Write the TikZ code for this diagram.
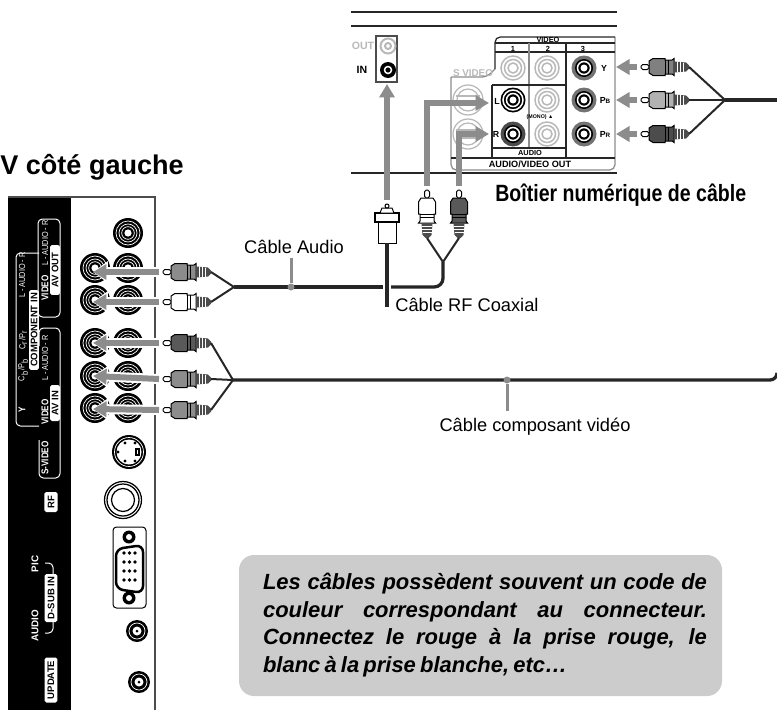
\documentclass[tikz,border=0pt]{standalone}
\usepackage{fontspec}
\setmainfont{Liberation Sans}
\newfontfamily\narrowfont[FakeStretch=0.83]{Liberation Sans}
\usepackage{xcolor}
\usetikzlibrary{arrows.meta, calc}

\definecolor{arrowgray}{gray}{0.55}
\definecolor{ghostgray}{gray}{0.72}
\definecolor{notegray}{gray}{0.8}

\begin{document}
\begin{tikzpicture}[
    x=0.02cm, y=-0.02cm,
    cable/.style={draw=black!85, line width=0.065cm},
    thincable/.style={draw=black!85, line width=0.04cm},
    pointer/.style={-{Triangle[length=0.27cm, width=0.3cm]}, draw=arrowgray, line width=0.12cm,
        preaction={draw=white, line width=0.2cm, -{Triangle[length=0.3cm, width=0.42cm]}}},
    plainpointer/.style={-{Triangle[length=0.27cm, width=0.3cm]}, draw=arrowgray, line width=0.12cm},
    tickline/.style={draw=arrowgray, line width=0.06cm},
    tickdot/.style={circle, fill=arrowgray, inner sep=0pt, minimum size=0.14cm},
    label/.style={font=\fontsize{10.4}{12}\selectfont, inner sep=0pt},
    heading/.style={font=\fontsize{15.4}{18}\bfseries\selectfont, inner sep=0pt, anchor=west},
    whitetag/.style={rotate=90, font=\narrowfont\fontsize{5}{6}\selectfont, text=white, inner sep=0pt},
    boldtag/.style={rotate=90, font=\narrowfont\fontsize{5.6}{6}\bfseries\selectfont, text=white, inner sep=0pt},
    boxtag/.style={rotate=90, rounded corners=1pt, fill=white, text=black, inner sep=0pt, align=center,
        font=\fontsize{5.4}{6}\bfseries\selectfont},
    panelline/.style={draw=white, line width=0.02cm, rounded corners=2.5pt},
    avtext/.style={font=\fontsize{4.2}{5}\bfseries\selectfont, inner sep=0pt},
    avletter/.style={font=\fontsize{5}{6}\bfseries\selectfont, inner sep=0pt},
    avline/.style={draw=black!85, line width=0.025cm},
    ghostline/.style={draw=arrowgray, line width=0.025cm},
    pics/jack/.style n args={2}{code={
        \fill[#1] (0,0) circle[radius=#2];
        \draw[white, line width=0.014cm] (0,0) circle[radius=#2*0.8];
        \draw[white, line width=0.014cm] (0,0) circle[radius=#2*0.6];
        \draw[white, line width=0.014cm] (0,0) circle[radius=#2*0.42];
        \fill[white] (0,0) circle[radius=#2*0.24];
    }},
    pics/minijack/.style={code={
        \fill[black] (0,0) circle[radius=11];
        \draw[white, line width=0.014cm] (0,0) circle[radius=8];
        \fill[white] (0,0) circle[radius=4.5];
        \fill[black] (0,0) circle[radius=1.5];
    }},
    pics/ghostjack/.style={code={
        \draw[ghostgray, line width=0.03cm] (0,0) circle[radius=12];
        \draw[ghostgray, line width=0.03cm] (0,0) circle[radius=8.5];
        \draw[ghostgray, line width=0.03cm] (0,0) circle[radius=5];
    }},
    pics/darkjack/.style={code={
        \fill[#1] (0,0) circle[radius=12.5];
        \fill[black] (0,0) circle[radius=9];
        \draw[white, line width=0.03cm] (0,0) circle[radius=6.5];
        \fill[white] (0,0) circle[radius=3.5];
    }},
    pics/rcaplug/.style={code={
        \coordinate (-tip) at (-4,0);
        \coordinate (-tail) at (48,0);
        \draw[black, line width=0.02cm, fill=white, rounded corners=1pt] (0,-2.5) -- (8,-2.5) -- (8,2.5) -- (0,2.5) -- cycle;
        \draw[black, line width=0.02cm, fill=#1] (8,-6) -- (12,-8.5) -- (24,-8.5) -- (24,-7) -- (31,-7) -- (33,-8.5) -- (33,8.5) -- (31,7) -- (24,7) -- (24,8.5) -- (12,8.5) -- (8,6) -- cycle;
        \draw[black, line width=0.015cm] (24,-7) -- (24,7) (27,-7) -- (27,7);
        \fill[black!70] (33,-5.5) -- (45,-4.5) -- (48,-1.5) -- (48,1.5) -- (45,4.5) -- (33,5.5) -- cycle;
        \draw[white, line width=0.012cm] (36,-5) -- (36,5) (39,-5) -- (39,5) (42,-4.5) -- (42,4.5);
    }},
]
\useasboundingbox (0,0) rectangle (777,710);

% television panel
\fill[black] (8,197) rectangle (71,710);
\draw[black!70, line width=0.025cm] (8,197) -- (155,197) -- (155,710);

\draw[panelline] (38,219) rectangle (60,317);
\draw[panelline] (39,253) -- (16,253) -- (16,426) -- (39,426);
\draw[panelline] (39,346) -- (39,328) -- (60,328) -- (60,478) -- (39,478) -- (39,440);
\draw[panelline] (45,563) -- (53,563) -- (53,633) -- (45,633);

\node[whitetag] (tvaudiob) at (45,243) {L - AUDIO - R};
\node[boldtag] (tvvideob) at (45,288) {VIDEO};
\node[boxtag, minimum width=1cm, minimum height=0.2cm] (avout) at (55,270) {AV OUT};
\node[whitetag] (tvaudioa) at (22,275) {L - AUDIO - R};
\node[whitetag] (tvcr) at (23,340) {C\textsubscript{r}/P\textsubscript{r}};
\node[whitetag] (tvcb) at (23,370) {C\textsubscript{b}/P\textsubscript{b}};
\node[boldtag] (tvy) at (22,410) {Y};
\node[boxtag, minimum width=1.6cm, minimum height=0.2cm] (compin) at (34,330) {COMPONENT IN};
\node[whitetag] (tvaudioc) at (45,358) {L - AUDIO - R};
\node[boldtag] (tvvideoc) at (45,412) {VIDEO};
\node[boxtag, minimum width=0.72cm, minimum height=0.2cm] (avin) at (55,403) {AV IN};
\node[boldtag] (tvsvideo) at (45,458) {S-VIDEO};
\node[boxtag, minimum width=0.4cm, minimum height=0.27cm] (tvrf) at (51,502) {RF};
\node[boldtag, font=\fontsize{5.6}{6}\bfseries\selectfont] (tvpic) at (35,564) {PIC};
\node[boldtag, font=\fontsize{5.6}{6}\bfseries\selectfont] (tvsound) at (35,626) {AUDIO};
\node[boxtag, minimum width=0.96cm, minimum height=0.26cm] (dsub) at (51,598) {D-SUB IN};
\node[boxtag, minimum width=0.9cm, minimum height=0.26cm] (update) at (51,680) {UPDATE};

\pic at (128,233) {jack={black}{15}};
\pic at (128,268) {jack={black}{15}};
\pic at (128,300) {jack={black}{15}};
\pic at (128,343) {jack={black}{15}};
\pic at (128,376) {jack={black}{15}};
\pic at (128,408) {jack={black}{15}};
\pic at (95,268) {jack={black}{15}};
\pic at (95,300) {jack={black}{15}};
\pic at (95,343) {jack={black}{15}};
\pic at (95,376) {jack={black}{15}};
\pic at (95,408) {jack={black}{15}};

\coordinate (tvjacka) at (93,272);
\coordinate (tvjackb) at (93,302);
\coordinate (tvjackc) at (93,343);
\coordinate (tvjackd) at (93,376);
\coordinate (tvjacke) at (93,409);

% lower sockets
\fill[black] (129,452) circle[radius=17];
\draw[white, line width=0.014cm] (129,452) circle[radius=14.5];
\fill[white] (129,452) circle[radius=12.5];
\fill[black] (118,452) circle[radius=1.6] (125,443) circle[radius=1.6] (135,443) circle[radius=1.6] (125,461) circle[radius=1.6] (135,461) circle[radius=1.6];
\draw[black, line width=0.025cm] (136,449) rectangle (139,455);
\draw[black, line width=0.025cm] (123,500) circle[radius=18.5];
\draw[black, line width=0.025cm] (123,500) circle[radius=16];
\draw[black, line width=0.025cm] (123,500) circle[radius=11.5];
\draw[black, line width=0.02cm, rounded corners=2pt] (113,527) rectangle (146,608);
\fill[black] (129,537) circle[radius=6.5] (129,598) circle[radius=6.5];
\fill[white] (129,537) circle[radius=3] (129,598) circle[radius=3];
\draw[black, line width=0.05cm, rounded corners=4pt] (116,549) -- (143,545) -- (143,593) -- (116,589) -- cycle;
\foreach \pinx in {124,135,129.5}{
    \foreach \piny in {553,562,571,580}{
        \fill[black] (\pinx,\piny) circle[radius=1.8];
    }
}
\pic at (137,631) {minijack};
\pic at (139,682) {minijack};

% television plugs
\coordinate (tvaudiojoin) at (234,287);
\coordinate (tvvideojoin) at (233,380);
\pic (plugtva) at (163,272) {rcaplug=black!45};
\pic (plugtvb) at (163,302) {rcaplug=white};
\pic (plugtvc) at (163,343) {rcaplug=black!65};
\pic (plugtvd) at (163,379) {rcaplug=black!45};
\pic (plugtve) at (163,410) {rcaplug=black!45};
\draw[pointer] (plugtva-tip) -- (tvjacka);
\draw[pointer] (plugtvb-tip) -- (tvjackb);
\draw[pointer] (plugtvc-tip) -- (tvjackc);
\draw[pointer] (plugtvd-tip) -- (tvjackd);
\draw[pointer] (plugtve-tip) -- (tvjacke);
\draw[thincable] (plugtva-tail) -- (tvaudiojoin);
\draw[thincable] (plugtvb-tail) -- (tvaudiojoin);
\draw[thincable] (plugtvc-tail) -- (tvvideojoin);
\draw[thincable] (plugtvd-tail) -- (tvvideojoin);
\draw[thincable] (plugtve-tail) -- (tvvideojoin);

\node[heading] (tvtitle) at (0,167) {V côté gauche};

% cable box
\draw[avline] (351,12) -- (617,12);
\draw[avline] (351,26) -- (617,26);
\draw[avline] (351,173) -- (617,173);

\draw[black!70, line width=0.025cm] (376,36) rectangle (397,82);
\node[font=\fontsize{6}{7}\bfseries\selectfont, text=ghostgray, inner sep=0pt] (outlabel) at (363,46) {OUT};
\node[font=\fontsize{6}{7}\bfseries\selectfont, inner sep=0pt] (inlabel) at (362,70) {IN};
\draw[ghostgray, line width=0.04cm] (388,46) circle[radius=7.5];
\draw[ghostgray, line width=0.04cm] (388,46) circle[radius=3];
\fill[black] (388,70) circle[radius=8];
\draw[white, line width=0.03cm] (388,70) circle[radius=3.5];
\coordinate (injack) at (387,84);

\draw[ghostline, rounded corners=3pt] (451,77) -- (451,170) -- (615,170) -- (615,37);
\draw[ghostline, rounded corners=3pt] (451,77) -- (487,77) -- (495,69);
\draw[avline, rounded corners=3pt] (495,69) -- (495,37) -- (615,37);
\draw[avline] (495,43) -- (615,43);
\draw[avline] (495,52) -- (615,52);
\draw[ghostline] (529,43) -- (529,148);
\draw[avline] (566,43) -- (566,158);
\draw[avline] (492,85) -- (566,85) (492,85) -- (492,158);
\draw[avline] (492,148) -- (566,148);
\draw[avline] (451,158) -- (615,158);

\node[avtext] (boxvideo) at (548,40) {VIDEO};
\node[avtext] (boxone) at (513,48.5) {1};
\node[avtext] (boxtwo) at (548,48.5) {2};
\node[avtext] (boxthree) at (583,48.5) {3};
\node[avtext] (boxaudio) at (530,153) {AUDIO};
\node[avtext, font=\fontsize{5.2}{6}\bfseries\selectfont] (boxout) at (530,164) {AUDIO/VIDEO OUT};
\node[avtext, font=\fontsize{5.6}{6}\bfseries\selectfont, text=ghostgray] (boxsvideo) at (473,73) {S VIDEO};
\node[avtext, font=\fontsize{3}{4}\bfseries\selectfont] (boxmono) at (540,117) {(MONO) ▲};
\node[avletter] (boxl) at (497,101) {L};
\node[avletter] (boxr) at (496,134) {R};
\node[avletter] (boxy) at (604,68) {Y};
\node[avletter] (boxpb) at (605,100) {P{\fontsize{3.6}{4}\selectfont B}};
\node[avletter] (boxpr) at (605,134) {P{\fontsize{3.6}{4}\selectfont R}};

\pic at (513,68) {ghostjack};
\pic at (547,68) {ghostjack};
\pic at (547,100) {ghostjack};
\pic at (547,134) {ghostjack};
\pic at (584,68) {darkjack=black!55};
\pic at (584,100) {darkjack=black!55};
\pic at (584,134) {darkjack=black!55};
\pic at (513,134) {darkjack=black!70};
\fill[black] (513,100) circle[radius=12.5];
\draw[white, line width=0.03cm] (513,100) circle[radius=10];
\draw[white, line width=0.03cm] (513,100) circle[radius=6.5];
\fill[white] (513,100) circle[radius=3.5];

\draw[ghostgray, line width=0.025cm] (468,100) circle[radius=15];
\draw[ghostgray, line width=0.025cm] (468,100) circle[radius=11];
\draw[ghostgray, line width=0.025cm] (456,96) -- (480,96) (456,104) -- (480,104);
\draw[ghostgray, line width=0.025cm] (468,134) circle[radius=15];
\draw[ghostgray, line width=0.025cm] (468,134) circle[radius=11];
\draw[ghostgray, line width=0.025cm] (456,130) -- (480,130) (456,138) -- (480,138);

\coordinate (jackl) at (489,103);
\coordinate (jackr) at (489,134);
\coordinate (jacky) at (616,67);
\coordinate (jackpb) at (616,100);
\coordinate (jackpr) at (616,134);

% box plugs
\coordinate (boxvideojoin) at (725,100);
\pic (plugy) at (641,67) {rcaplug=black!50};
\pic (plugpb) at (641,100) {rcaplug=black!30};
\pic (plugpr) at (641,134) {rcaplug=black!70};
\draw[plainpointer] (plugy-tip) -- (jacky);
\draw[plainpointer] (plugpb-tip) -- (jackpb);
\draw[plainpointer] (plugpr-tip) -- (jackpr);
\draw[thincable] (plugy-tail) -- (boxvideojoin);
\draw[thincable] (plugpb-tail) -- (boxvideojoin);
\draw[thincable] (plugpr-tail) -- (boxvideojoin);

\coordinate (boxaudiojoin) at (443,262);
\pic[rotate=-90] (plugl) at (427,190) {rcaplug=white};
\pic[rotate=-90] (plugr) at (459,190) {rcaplug=black!65};
\draw[plainpointer] (plugl-tip) |- (jackl);
\draw[plainpointer] (plugr-tip) |- (jackr);
\draw[thincable] (plugl-tail) -- (boxaudiojoin);
\draw[thincable] (plugr-tail) -- (boxaudiojoin);

\node[heading, font=\narrowfont\fontsize{13.4}{16}\bfseries\selectfont] (boxtitle) at (495,195) {Boîtier numérique de câble};

% coaxial plug
\coordinate (coaxtop) at (387,200);
\draw[plainpointer] (coaxtop) -- (injack);
\draw[black, line width=0.02cm, fill=white] (378,222) rectangle (396,243);
\draw[black, line width=0.035cm, fill=white] (375,213) rectangle (399,222);
\draw[black, line width=0.02cm, fill=white] (380,213) -- (382,208) -- (392,208) -- (394,213) -- cycle;
\draw[black, line width=0.02cm, fill=white] (387,206) circle[radius=2];

% main cables
\coordinate (coaxend) at (387,307);
\coordinate (coaxstart) at (387,243);
\coordinate (gapleft) at (383,287);
\coordinate (gapright) at (391,287);
\coordinate (rightedgetop) at (777,100);
\coordinate (rightedge) at (777,376);
\draw[cable] (tvaudiojoin) -- (gapleft);
\draw[cable, rounded corners=5pt] (gapright) -- (443,287) -- (boxaudiojoin);
\draw[cable, line width=0.08cm] (coaxstart) -- (coaxend);
\draw[cable] (boxvideojoin) -- (rightedgetop);
\draw[cable, rounded corners=4pt] (tvvideojoin) -- (777,380) -- (rightedge);

% cable labels
\node[tickdot] (audiodot) at (291,287) {};
\coordinate (audiotick) at (291,258);
\draw[tickline] (audiotick) -- (audiodot);
\node[label] (audiolabel) at (294,247) {Câble Audio};
\node[tickdot] (videodot) at (507,380) {};
\coordinate (videotick) at (507,411);
\draw[tickline] (videotick) -- (videodot);
\node[label] (videolabel) at (535,427) {Câble composant vidéo};
\node[label, anchor=west] (coaxlabel) at (395,305) {Câble RF Coaxial};

% note
\fill[notegray, rounded corners=0.3cm] (239,555) rectangle (722,696);
\node[inner sep=0pt, text width=8.88cm, align=justify, font=\fontsize{12.5}{15.8}\bfseries\itshape\selectfont] (note) at (485,625)
    {\hyphenpenalty=10000 \tolerance=9999 \spaceskip=0.19em plus 0.8em minus 0.02em Les câbles possèdent souvent un code de\linebreak couleur correspondant au connecteur.\linebreak Connectez le rouge à la prise rouge, le\linebreak blanc à la prise blanche, etc…};
\end{tikzpicture}
\end{document}
